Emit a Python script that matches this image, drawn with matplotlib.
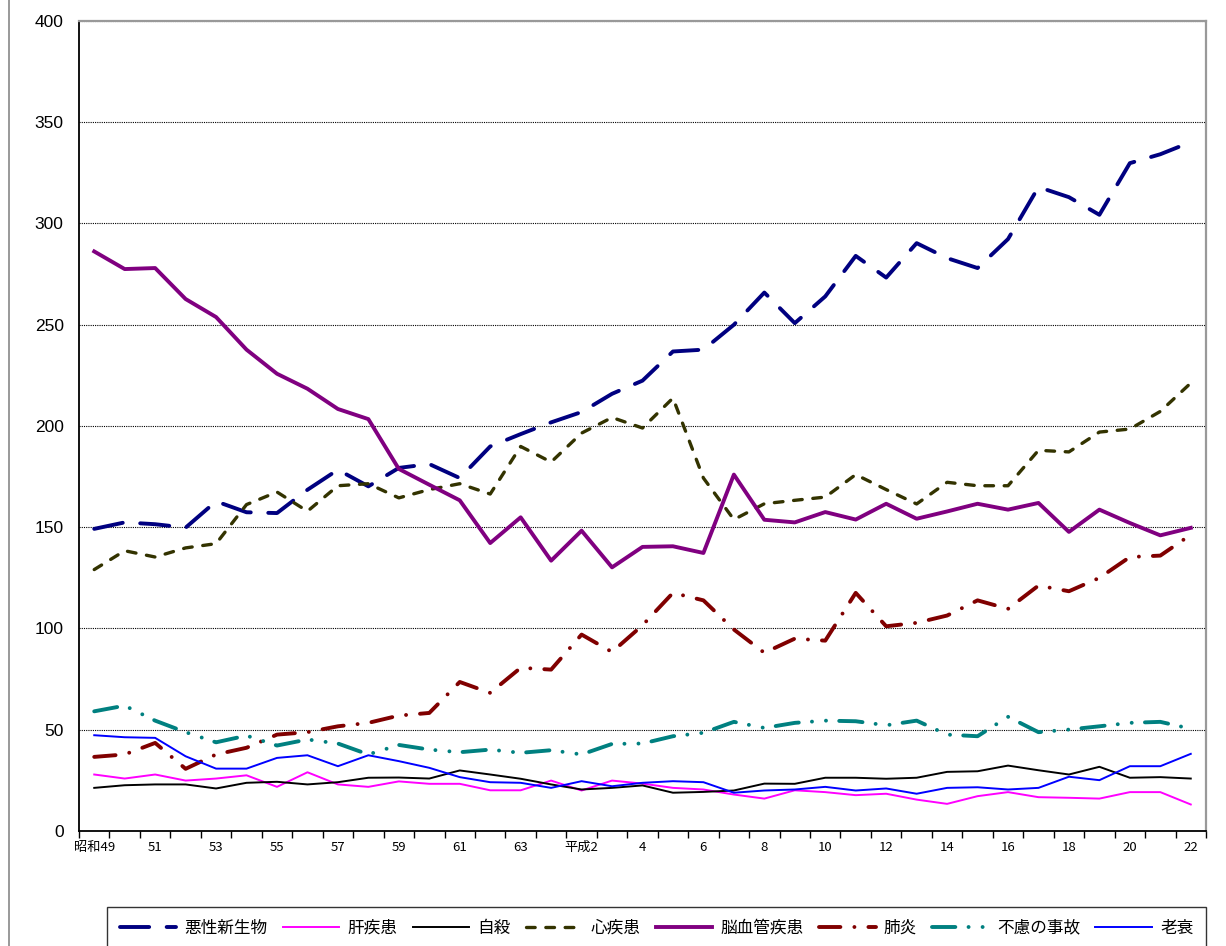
import numpy as np
import matplotlib
matplotlib.use('Agg')
import matplotlib.pyplot as plt
from matplotlib.lines import Line2D

plt.rcParams['font.family'] = ['Noto Sans CJK JP', 'DejaVu Sans']

# 年次 (昭和49年〜平成22年)
years = (['昭和49'] + [str(y) for y in range(50, 64)] + ['平成元', '平成2']
         + [str(y) for y in range(3, 23)])

cancer = [149.2, 152.4, 151.5, 149.8, 162.8, 157.4, 157.0, 168.5, 178.4, 170.2, 179.3, 181.2, 174.3,
          189.9, 196.0, 201.8, 206.9, 215.9, 222.4, 236.8, 237.7, 250.0, 265.9, 250.8, 264.0, 284.0,
          273.3, 290.3, 282.9, 278.0, 292.3, 318.0, 313.0, 304.3, 329.8, 334.2, 340.2]
liver = [27.9, 25.9, 27.9, 24.9, 25.9, 27.5, 21.8, 29.0, 23.0, 21.8, 24.5, 23.3, 23.3, 20.1, 20.1,
         24.9, 20.0, 24.9, 23.4, 21.3, 20.5, 18.0, 16.0, 20.1, 19.2, 17.7, 18.4, 15.5, 13.4, 17.2,
         19.2, 16.7, 16.4, 16.0, 19.2, 19.2, 13.1]
suicide = [21.3, 22.6, 23.0, 23.0, 21.0, 23.8, 24.3, 23.0, 24.1, 26.3, 26.4, 25.9, 29.9, 27.9, 25.8,
           23.0, 20.5, 21.3, 22.5, 18.9, 19.3, 20.0, 23.4, 23.3, 26.3, 26.3, 25.8, 26.3, 29.2, 29.5,
           32.3, 30.0, 27.9, 31.7, 26.3, 26.6, 25.9]
heart = [129.1, 138.4, 135.3, 139.8, 141.9, 161.2, 167.4, 157.9, 170.5, 171.5, 164.5, 168.6, 171.5,
         166.4, 189.9, 182.2, 196.5, 204.2, 199.0, 213.8, 174.3, 153.8, 161.6, 163.3, 164.9, 176.0,
         168.6, 161.5, 172.2, 170.5, 170.5, 188.0, 187.2, 197.0, 198.5, 207.2, 221.2]
cerebro = [286.2, 277.5, 278.0, 262.7, 253.8, 237.7, 225.8, 218.4, 208.4, 203.4, 178.8, 171.0, 163.3,
           142.2, 154.9, 133.5, 148.3, 130.2, 140.3, 140.6, 137.3, 176.0, 153.7, 152.4, 157.5, 153.8,
           161.6, 154.2, 157.8, 161.6, 158.7, 162.0, 147.7, 158.7, 152.1, 146.0, 149.7]
pneumonia = [36.6, 37.8, 43.5, 30.7, 37.8, 41.1, 47.6, 48.8, 51.7, 53.4, 57.0, 58.3, 73.6, 68.2, 80.6,
             79.7, 97.0, 88.4, 101.6, 117.6, 113.9, 99.5, 88.0, 95.0, 94.0, 117.6, 101.1, 102.8, 106.4,
             113.9, 109.7, 121.2, 118.4, 125.0, 135.3, 136.0, 146.3]
accident = [59.1, 61.9, 54.5, 48.8, 43.8, 47.1, 42.2, 45.2, 43.2, 37.8, 42.5, 40.2, 38.9, 40.2, 38.6,
            39.9, 37.8, 43.0, 43.2, 46.8, 48.5, 53.9, 50.9, 53.4, 54.5, 54.2, 52.2, 54.5, 47.6, 46.8,
            56.4, 48.8, 50.1, 51.7, 53.4, 53.9, 50.5]
senility = [47.3, 46.3, 46.0, 36.9, 30.8, 30.8, 36.1, 37.4, 32.0, 37.4, 34.5, 31.2, 26.6, 24.1, 23.8,
            21.3, 24.6, 22.1, 23.8, 24.6, 24.1, 18.9, 20.0, 20.5, 21.8, 20.0, 21.0, 18.4, 21.3, 21.6,
            20.5, 21.3, 26.8, 25.1, 32.0, 32.0, 38.1]

x = np.arange(len(years))

fig = plt.figure(figsize=(12.26, 9.46), dpi=100)
ax = fig.add_axes([79 / 1226, 115 / 946, 1127 / 1226, 810 / 946])

ax.plot(x, cancer, color='#000080', lw=2.8, linestyle=(0, (7.5, 4.5)), dash_capstyle='round',
        solid_joinstyle='round', label='悪性新生物')
ax.plot(x, liver, color='#FF00FF', lw=1.4, label='肝疾患')
ax.plot(x, suicide, color='black', lw=1.4, label='自殺')
ax.plot(x, heart, color='#333300', lw=2.4, linestyle=(0, (2.6, 3.2)), dash_capstyle='round',
        label='心疾患')
ax.plot(x, cerebro, color='#800080', lw=2.8, solid_joinstyle='round', label='脳血管疾患')
ax.plot(x, pneumonia, color='#800000', lw=2.8, linestyle=(0, (5.5, 3.6, 0.01, 3.6)),
        dash_capstyle='round', label='肺炎')
ax.plot(x, accident, color='#008080', lw=2.8, linestyle=(0, (6, 3.4, 0.01, 3.6, 0.01, 3.4)),
        dash_capstyle='round', label='不慮の事故')
ax.plot(x, senility, color='#0000FF', lw=1.4, label='老衰')

ax.set_xlim(-0.5, len(years) - 0.5)
ax.set_ylim(0, 400)
ax.set_yticks(np.arange(0, 401, 50))
ax.yaxis.grid(True, linestyle=(0, (1, 1)), color='black', lw=0.8)
ax.set_axisbelow(True)

ax.set_xticks(x[::2])
ax.set_xticklabels(years[::2], fontsize=9.5)
ax.set_xticks(np.arange(-0.5, len(years), 1), minor=True)
ax.tick_params(axis='x', which='major', length=0, pad=7)
ax.tick_params(axis='x', which='minor', length=5, width=1, direction='out', color='black')
ax.tick_params(axis='y', length=0, pad=11, labelsize=12.5)
for t in ax.get_yticklabels():
    t.set_fontfamily(['Liberation Sans', 'DejaVu Sans'])

for s in ['left', 'bottom']:
    ax.spines[s].set_color('black')
    ax.spines[s].set_linewidth(1.3)
for s in ['top', 'right']:
    ax.spines[s].set_color('#999999')
    ax.spines[s].set_linewidth(1.6)

fig.add_artist(Line2D([9 / 1226, 9 / 1226], [0, 1], transform=fig.transFigure,
                      color='#888888', lw=1.2))

leg = fig.legend(loc='upper left', bbox_to_anchor=(107 / 1226, 1 - 907 / 946 - 0.04, 1099 / 1226, 0.04),
                 mode='expand', ncol=8, frameon=True, fancybox=False, edgecolor='black',
                 handlelength=3.4, fontsize=12, borderpad=0.75, columnspacing=0.8,
                 handletextpad=0.5, borderaxespad=0)
leg.get_frame().set_linewidth(1)

fig.savefig('out.png', dpi=100)
